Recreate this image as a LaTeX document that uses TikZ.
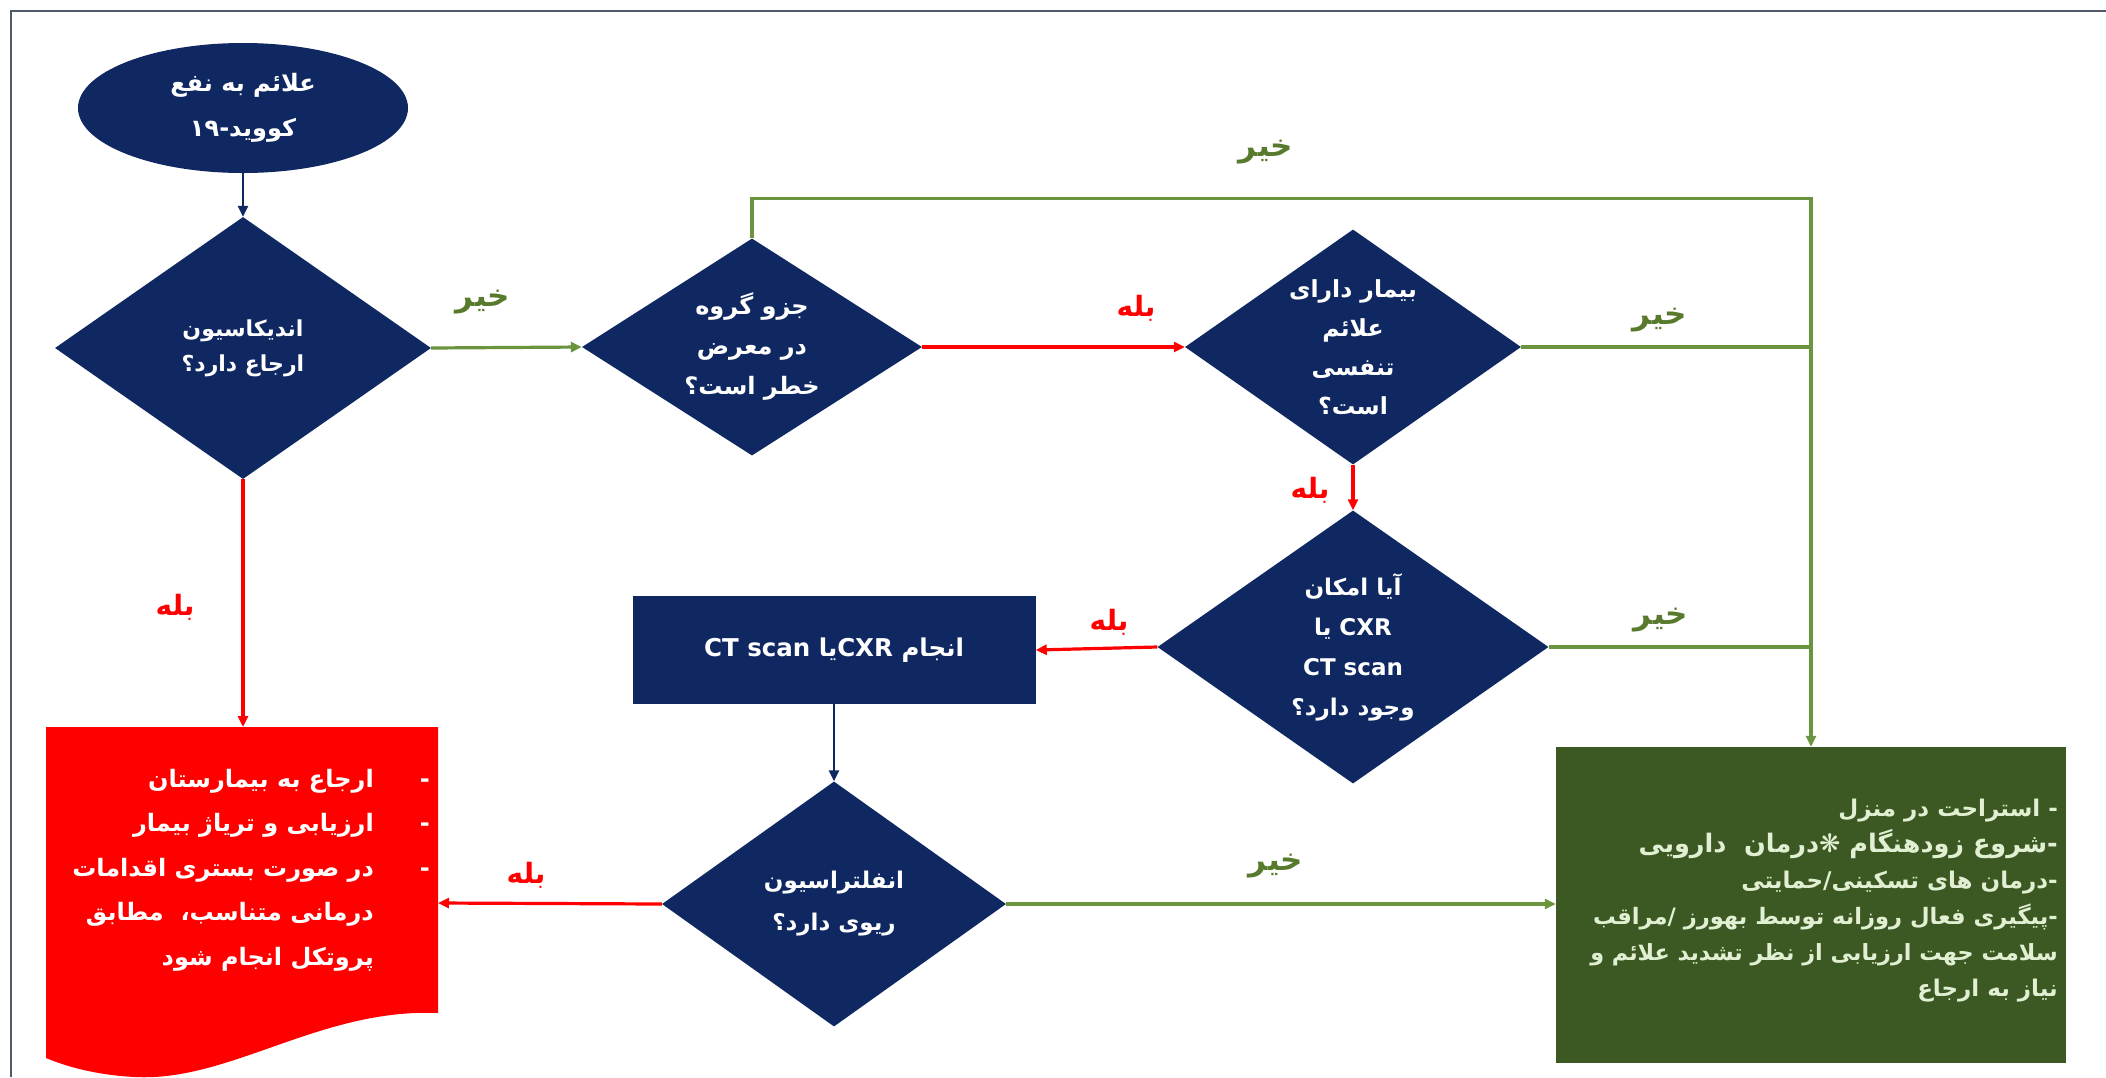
\documentclass[tikz,border=0pt]{standalone}
\usepackage{fontspec}
\usetikzlibrary{shapes.geometric,arrows.meta}
\TeXXeTstate=1
\newfontfamily\fa[Script=Arabic]{DejaVu Sans}
\newcommand{\rl}[1]{\beginR #1\endR}
\definecolor{navy}{RGB}{15,40,98}
\definecolor{redc}{RGB}{255,0,0}
\definecolor{gline}{RGB}{107,148,62}
\definecolor{glabel}{RGB}{88,122,44}
\definecolor{gbox}{RGB}{60,88,35}
\definecolor{gtext}{RGB}{225,240,210}
\definecolor{framec}{RGB}{80,90,106}
\tikzset{
  dia/.style={diamond, fill=navy, draw=none, inner sep=0pt},
  dtxt/.style={text=white, align=center, inner sep=0pt, font=\fa\bfseries\fontsize{22}{38}\selectfont},
  lblg/.style={text=glabel, inner sep=0pt, font=\fa\bfseries\fontsize{31}{34}\selectfont},
  lblr/.style={text=redc, inner sep=0pt, font=\fa\bfseries\fontsize{28}{30}\selectfont},
  tip/.style={-{Triangle[length=11pt,width=10pt]}},
  garrow/.style={draw=gline, line width=3.2pt},
  rarrow/.style={draw=redc, line width=3.2pt},
  narrow/.style={draw=navy, line width=2.8pt},
}
\begin{document}
\begin{tikzpicture}[x=1pt,y=-1pt]
\useasboundingbox (0,0) rectangle (2106,1077);
\fill[white] (0,0) rectangle (2106,1077);
\draw[framec, line width=2pt] (11,1077) -- (11,11) -- (2106,11);

% start ellipse
\node[ellipse, fill=navy, minimum width=330pt, minimum height=130pt, inner sep=0pt,
      text=white, align=center, font=\fa\bfseries\fontsize{24}{45}\selectfont]
  (e1) at (243,108) {\rl{علائم به نفع}\\\rl{کووید-۱۹}};

% diamonds
\node[dia, minimum width=376pt, minimum height=262pt] (d1) at (243,348) {};
\node[dtxt, font=\fa\bfseries\fontsize{22}{35}\selectfont] (t1) at (d1) {\rl{اندیکاسیون}\\\rl{ارجاع دارد؟}};

\node[dia, minimum width=340pt, minimum height=217pt] (d2) at (752,347) {};
\node[dtxt, font=\fa\bfseries\fontsize{24}{40}\selectfont] (t2) at (d2) {\rl{جزو گروه}\\\rl{در معرض}\\\rl{خطر است؟}};

\node[dia, minimum width=336pt, minimum height=235pt] (d3) at (1353,347) {};
\node[dtxt, font=\fa\bfseries\fontsize{23.5}{39}\selectfont] (t3) at (d3) {\rl{بیمار دارای}\\\rl{علائم}\\\rl{تنفسی}\\\rl{است؟}};

\node[dia, minimum width=391pt, minimum height=273pt] (d4) at (1353,647) {};
\node[dtxt, font=\fa\bfseries\fontsize{23}{40}\selectfont] (t4) at (d4) {\rl{آیا امکان}\\\rl{\beginL CXR\endL{} یا}\\\rl{\beginL CT scan\endL}\\\rl{وجود دارد؟}};

\node[dia, minimum width=344pt, minimum height=245pt] (d5) at (834,904) {};
\node[dtxt, font=\fa\bfseries\fontsize{23}{42}\selectfont] (t5) at (d5) {\rl{انفلتراسیون}\\\rl{ریوی دارد؟}};

% rectangle
\node[rectangle, fill=navy, minimum width=403pt, minimum height=108pt, inner sep=0pt,
      text=white, font=\fa\bfseries\fontsize{24.5}{30}\selectfont]
  (r1) at (834,650) {\rl{انجام \beginL CXR\endL یا \beginL CT scan\endL}};

% red document shape
\fill[redc] (46,727) -- (438,727) -- (438,1013)
  .. controls (320,1008) and (230,1082) .. (135,1077)
  .. controls (95,1075) and (65,1066) .. (46,1058) -- cycle;
\coordinate (doctop) at (243,727);
\coordinate (docright) at (438,903);
\node[anchor=east, text=white, align=right, inner sep=0pt,
      font=\fa\bfseries\fontsize{24}{44.5}\selectfont] (doctxt) at (430,870)
  {\rl{\makebox[56pt][l]{-}ارجاع به بیمارستان}\\
   \rl{\makebox[56pt][l]{-}ارزیابی و تریاژ بیمار}\\
   \rl{\makebox[56pt][l]{-}در صورت بستری اقدامات}\\
   \rl{\makebox[56pt]{}درمانی متناسب،\ \ مطابق}\\
   \rl{\makebox[56pt]{}پروتکل انجام شود}};

% green box
\node[rectangle, fill=gbox, minimum width=510pt, minimum height=316pt, inner sep=0pt] (g1) at (1811,905) {};
\node[anchor=east, text=gtext, align=right, inner sep=0pt,
      font=\fa\bfseries\fontsize{23}{36}\selectfont] (gtxt) at (2058,901)
  {\rl{- استراحت در منزل}\\
   \rl{\fontsize{25.5}{36}\selectfont -شروع زودهنگام ❋درمان\ \ دارویی}\\
   \rl{-درمان های تسکینی/حمایتی}\\
   \rl{\fontsize{22.6}{36}\selectfont -پیگیری فعال روزانه توسط بهورز /مراقب}\\
   \rl{\fontsize{22.3}{36}\selectfont سلامت جهت ارزیابی از نظر تشدید علائم و}\\
   \rl{نیاز به ارجاع}};

% connectors
\draw[narrow, tip] (e1.south) -- (d1.north);
\draw[garrow, tip] (d1.east) -- (d2.west);
\draw[rarrow, tip] (d1.south) -- (doctop);
\draw[rarrow, tip] (d2.east) -- (d3.west);
\draw[garrow, tip] (d2.north) -- ++(0,-40) -| (g1.north);
\draw[garrow] (d3.east) -- (d3.east -| g1.north);
\draw[rarrow, tip] (d3.south) -- (d4.north);
\draw[garrow] (d4.east) -- (d4.east -| g1.north);
\draw[rarrow, tip] (d4.west) -- (r1.east);
\draw[narrow, tip] (r1.south) -- (d5.north);
\draw[rarrow, tip] (d5.west) -- (docright);
\draw[garrow, tip] (d5.east) -- (d5.east -| g1.west);

% labels
\node[lblg] (l1) at (483,302) {\rl{خیر}};
\node[lblr] (l2) at (175,607) {\rl{بله}};
\node[lblr] (l3) at (1136,308) {\rl{بله}};
\node[lblg] (l4) at (1266,152) {\rl{خیر}};
\node[lblg] (l5) at (1660,320) {\rl{خیر}};
\node[lblr] (l6) at (1310,490) {\rl{بله}};
\node[lblg] (l7) at (1661,620) {\rl{خیر}};
\node[lblr] (l8) at (1109,622) {\rl{بله}};
\node[lblr] (l9) at (526,875) {\rl{بله}};
\node[lblg] (l10) at (1276,866) {\rl{خیر}};
\end{tikzpicture}
\end{document}
